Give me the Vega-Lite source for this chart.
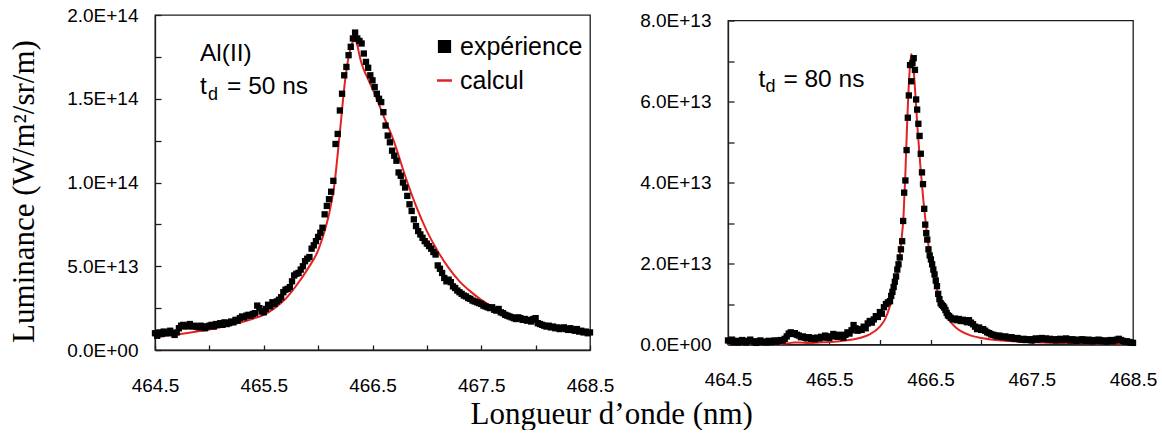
{
  "$schema": "https://vega.github.io/schema/vega-lite/v6.json",
  "background": "white",
  "padding": {"left": 8, "top": 5, "right": 0, "bottom": 0},
  "title": {"text": "Longueur d’onde (nm)", "orient": "bottom", "anchor": "middle", "font": "Liberation Serif", "fontSize": 31, "fontWeight": "normal", "color": "#000", "offset": 4, "dx": 29},
  "datasets": {
    "exp50": [
      {"x":464.50,"y":1.00e13},{"x":464.52,"y":0.85e13},{"x":464.54,"y":1.05e13},{"x":464.56,"y":0.95e13},{"x":464.58,"y":1.10e13},{"x":464.60,"y":1.00e13},{"x":464.62,"y":1.05e13},{"x":464.64,"y":1.15e13},{"x":464.66,"y":1.00e13},{"x":464.68,"y":0.90e13},
      {"x":464.70,"y":1.05e13},{"x":464.72,"y":1.30e13},{"x":464.74,"y":1.45e13},{"x":464.76,"y":1.50e13},{"x":464.78,"y":1.40e13},{"x":464.80,"y":1.45e13},{"x":464.82,"y":1.55e13},{"x":464.84,"y":1.40e13},{"x":464.86,"y":1.45e13},{"x":464.88,"y":1.40e13},
      {"x":464.90,"y":1.35e13},{"x":464.92,"y":1.45e13},{"x":464.94,"y":1.40e13},{"x":464.96,"y":1.30e13},{"x":464.98,"y":1.40e13},{"x":465.00,"y":1.45e13},{"x":465.02,"y":1.50e13},{"x":465.04,"y":1.40e13},{"x":465.06,"y":1.55e13},{"x":465.08,"y":1.50e13},
      {"x":465.10,"y":1.60e13},{"x":465.12,"y":1.50e13},{"x":465.14,"y":1.65e13},{"x":465.16,"y":1.55e13},{"x":465.18,"y":1.60e13},{"x":465.20,"y":1.70e13},{"x":465.22,"y":1.65e13},{"x":465.24,"y":1.80e13},{"x":465.26,"y":1.75e13},{"x":465.28,"y":1.90e13},
      {"x":465.30,"y":2.00e13},{"x":465.32,"y":1.95e13},{"x":465.34,"y":2.05e13},{"x":465.36,"y":2.10e13},{"x":465.38,"y":2.05e13},{"x":465.40,"y":2.15e13},{"x":465.42,"y":2.20e13},{"x":465.44,"y":2.65e13},{"x":465.46,"y":2.50e13},{"x":465.48,"y":2.30e13},
      {"x":465.50,"y":2.25e13},{"x":465.52,"y":2.45e13},{"x":465.54,"y":2.70e13},{"x":465.56,"y":2.60e13},{"x":465.58,"y":2.85e13},{"x":465.60,"y":2.75e13},{"x":465.62,"y":2.90e13},{"x":465.64,"y":3.00e13},{"x":465.66,"y":3.15e13},{"x":465.68,"y":3.45e13},
      {"x":465.70,"y":3.60e13},{"x":465.72,"y":3.65e13},{"x":465.74,"y":3.75e13},{"x":465.76,"y":4.10e13},{"x":465.78,"y":4.45e13},{"x":465.80,"y":4.55e13},{"x":465.82,"y":4.60e13},{"x":465.84,"y":4.80e13},{"x":465.86,"y":5.00e13},{"x":465.88,"y":5.30e13},
      {"x":465.90,"y":5.45e13},{"x":465.92,"y":5.55e13},{"x":465.94,"y":6.05e13},{"x":465.96,"y":6.25e13},{"x":465.98,"y":6.50e13},{"x":466.00,"y":6.75e13},{"x":466.02,"y":7.00e13},{"x":466.04,"y":7.30e13},{"x":466.06,"y":8.10e13},{"x":466.08,"y":8.60e13},
      {"x":466.10,"y":9.00e13},{"x":466.12,"y":9.45e13},{"x":466.14,"y":10.10e13},{"x":466.16,"y":12.30e13},{"x":466.18,"y":12.90e13},{"x":466.20,"y":14.30e13},{"x":466.22,"y":15.30e13},{"x":466.24,"y":16.40e13},{"x":466.26,"y":16.90e13},{"x":466.28,"y":17.60e13},
      {"x":466.30,"y":18.10e13},{"x":466.32,"y":18.60e13},{"x":466.34,"y":18.95e13},{"x":466.36,"y":18.60e13},{"x":466.38,"y":18.45e13},{"x":466.40,"y":18.30e13},{"x":466.42,"y":17.70e13},{"x":466.44,"y":17.20e13},{"x":466.46,"y":16.85e13},{"x":466.48,"y":16.40e13},
      {"x":466.50,"y":16.10e13},{"x":466.52,"y":15.70e13},{"x":466.54,"y":15.30e13},{"x":466.56,"y":15.00e13},{"x":466.58,"y":14.80e13},{"x":466.60,"y":14.20e13},{"x":466.62,"y":13.40e13},{"x":466.64,"y":12.80e13},{"x":466.66,"y":12.40e13},{"x":466.68,"y":11.90e13},
      {"x":466.70,"y":11.60e13},{"x":466.72,"y":11.30e13},{"x":466.74,"y":10.60e13},{"x":466.76,"y":10.40e13},{"x":466.78,"y":10.00e13},{"x":466.80,"y":9.70e13},{"x":466.82,"y":9.20e13},{"x":466.84,"y":8.70e13},{"x":466.86,"y":8.30e13},{"x":466.88,"y":7.80e13},
      {"x":466.90,"y":7.40e13},{"x":466.92,"y":7.10e13},{"x":466.94,"y":6.90e13},{"x":466.96,"y":6.70e13},{"x":466.98,"y":6.50e13},{"x":467.00,"y":6.35e13},{"x":467.02,"y":6.20e13},{"x":467.04,"y":6.05e13},{"x":467.06,"y":5.85e13},{"x":467.08,"y":5.70e13},
      {"x":467.10,"y":5.05e13},{"x":467.12,"y":4.85e13},{"x":467.14,"y":4.60e13},{"x":467.16,"y":4.30e13},{"x":467.18,"y":4.10e13},{"x":467.20,"y":4.20e13},{"x":467.22,"y":4.05e13},{"x":467.24,"y":3.80e13},{"x":467.26,"y":3.70e13},{"x":467.28,"y":3.55e13},
      {"x":467.30,"y":3.45e13},{"x":467.32,"y":3.35e13},{"x":467.34,"y":3.25e13},{"x":467.36,"y":3.20e13},{"x":467.38,"y":3.10e13},{"x":467.40,"y":3.05e13},{"x":467.42,"y":2.95e13},{"x":467.44,"y":2.90e13},{"x":467.46,"y":2.85e13},{"x":467.48,"y":2.80e13},
      {"x":467.50,"y":2.75e13},{"x":467.52,"y":2.65e13},{"x":467.54,"y":2.60e13},{"x":467.56,"y":2.55e13},{"x":467.58,"y":2.50e13},{"x":467.60,"y":2.55e13},{"x":467.62,"y":2.40e13},{"x":467.64,"y":2.35e13},{"x":467.66,"y":2.45e13},{"x":467.68,"y":2.25e13},
      {"x":467.70,"y":2.20e13},{"x":467.72,"y":2.10e13},{"x":467.74,"y":2.05e13},{"x":467.76,"y":2.00e13},{"x":467.78,"y":1.95e13},{"x":467.80,"y":1.90e13},{"x":467.82,"y":1.85e13},{"x":467.84,"y":1.95e13},{"x":467.86,"y":1.90e13},{"x":467.88,"y":1.80e13},
      {"x":467.90,"y":1.85e13},{"x":467.92,"y":1.75e13},{"x":467.94,"y":1.80e13},{"x":467.96,"y":1.70e13},{"x":467.98,"y":1.85e13},{"x":468.00,"y":1.90e13},{"x":468.02,"y":1.60e13},{"x":468.04,"y":1.55e13},{"x":468.06,"y":1.50e13},{"x":468.08,"y":1.45e13},
      {"x":468.10,"y":1.40e13},{"x":468.12,"y":1.45e13},{"x":468.14,"y":1.35e13},{"x":468.16,"y":1.40e13},{"x":468.18,"y":1.30e13},{"x":468.20,"y":1.35e13},{"x":468.22,"y":1.25e13},{"x":468.24,"y":1.30e13},{"x":468.26,"y":1.35e13},{"x":468.28,"y":1.25e13},
      {"x":468.30,"y":1.20e13},{"x":468.32,"y":1.30e13},{"x":468.34,"y":1.20e13},{"x":468.36,"y":1.15e13},{"x":468.38,"y":1.25e13},{"x":468.40,"y":1.10e13},{"x":468.42,"y":1.15e13},{"x":468.44,"y":1.05e13},{"x":468.46,"y":1.10e13},{"x":468.48,"y":1.00e13},
      {"x":468.50,"y":1.05e13}
    ],
    "calc50": [
      {"x":464.5,"y":0.78e13},{"x":464.6,"y":0.85e13},{"x":464.7,"y":0.93e13},{"x":464.8,"y":1.02e13},{"x":464.9,"y":1.12e13},{"x":465.0,"y":1.23e13},{"x":465.1,"y":1.36e13},{"x":465.2,"y":1.50e13},{"x":465.3,"y":1.67e13},{"x":465.4,"y":1.87e13},
      {"x":465.5,"y":2.10e13},{"x":465.6,"y":2.50e13},{"x":465.7,"y":3.05e13},{"x":465.8,"y":3.85e13},{"x":465.9,"y":4.80e13},{"x":466.0,"y":5.95e13},{"x":466.05,"y":6.90e13},{"x":466.1,"y":8.10e13},{"x":466.15,"y":9.90e13},{"x":466.2,"y":13.0e13},
      {"x":466.25,"y":16.2e13},{"x":466.29,"y":17.8e13},{"x":466.32,"y":18.4e13},{"x":466.34,"y":18.5e13},{"x":466.36,"y":18.2e13},{"x":466.38,"y":17.6e13},{"x":466.4,"y":17.1e13},{"x":466.45,"y":16.3e13},{"x":466.5,"y":15.6e13},{"x":466.6,"y":14.0e13},
      {"x":466.7,"y":12.4e13},{"x":466.8,"y":10.4e13},{"x":466.9,"y":8.6e13},{"x":467.0,"y":7.1e13},{"x":467.1,"y":5.9e13},{"x":467.2,"y":4.9e13},{"x":467.3,"y":4.1e13},{"x":467.4,"y":3.5e13},{"x":467.5,"y":3.0e13},{"x":467.6,"y":2.6e13},
      {"x":467.7,"y":2.3e13},{"x":467.8,"y":2.05e13},{"x":467.9,"y":1.85e13},{"x":468.0,"y":1.65e13},{"x":468.1,"y":1.5e13},{"x":468.2,"y":1.35e13},{"x":468.3,"y":1.2e13},{"x":468.4,"y":1.05e13},{"x":468.5,"y":0.92e13}
    ],
    "exp80": [
      {"x":464.50,"y":0.10e13},{"x":464.52,"y":0.08e13},{"x":464.54,"y":0.12e13},{"x":464.56,"y":0.06e13},{"x":464.58,"y":0.09e13},{"x":464.60,"y":0.05e13},{"x":464.62,"y":0.08e13},{"x":464.64,"y":0.11e13},{"x":464.66,"y":0.07e13},{"x":464.68,"y":0.05e13},
      {"x":464.70,"y":0.09e13},{"x":464.72,"y":0.12e13},{"x":464.74,"y":0.08e13},{"x":464.76,"y":0.06e13},{"x":464.78,"y":0.04e13},{"x":464.80,"y":0.08e13},{"x":464.82,"y":0.10e13},{"x":464.84,"y":0.06e13},{"x":464.86,"y":0.07e13},{"x":464.88,"y":0.05e13},
      {"x":464.90,"y":0.09e13},{"x":464.92,"y":0.06e13},{"x":464.94,"y":0.08e13},{"x":464.96,"y":0.10e13},{"x":464.98,"y":0.07e13},{"x":465.00,"y":0.09e13},{"x":465.02,"y":0.11e13},{"x":465.04,"y":0.10e13},{"x":465.06,"y":0.14e13},{"x":465.08,"y":0.20e13},
      {"x":465.10,"y":0.27e13},{"x":465.12,"y":0.30e13},{"x":465.14,"y":0.26e13},{"x":465.16,"y":0.28e13},{"x":465.18,"y":0.24e13},{"x":465.20,"y":0.22e13},{"x":465.22,"y":0.18e13},{"x":465.24,"y":0.20e13},{"x":465.26,"y":0.17e13},{"x":465.28,"y":0.15e13},
      {"x":465.30,"y":0.18e13},{"x":465.32,"y":0.14e13},{"x":465.34,"y":0.16e13},{"x":465.36,"y":0.13e13},{"x":465.38,"y":0.17e13},{"x":465.40,"y":0.15e13},{"x":465.42,"y":0.19e13},{"x":465.44,"y":0.17e13},{"x":465.46,"y":0.22e13},{"x":465.48,"y":0.18e13},
      {"x":465.50,"y":0.16e13},{"x":465.52,"y":0.20e13},{"x":465.54,"y":0.26e13},{"x":465.56,"y":0.22e13},{"x":465.58,"y":0.19e13},{"x":465.60,"y":0.24e13},{"x":465.62,"y":0.21e13},{"x":465.64,"y":0.17e13},{"x":465.66,"y":0.24e13},{"x":465.68,"y":0.30e13},
      {"x":465.70,"y":0.27e13},{"x":465.72,"y":0.35e13},{"x":465.74,"y":0.48e13},{"x":465.76,"y":0.40e13},{"x":465.78,"y":0.34e13},{"x":465.80,"y":0.38e13},{"x":465.82,"y":0.36e13},{"x":465.84,"y":0.44e13},{"x":465.86,"y":0.40e13},{"x":465.88,"y":0.52e13},
      {"x":465.90,"y":0.58e13},{"x":465.92,"y":0.54e13},{"x":465.94,"y":0.62e13},{"x":465.96,"y":0.70e13},{"x":465.98,"y":0.68e13},{"x":466.00,"y":0.80e13},{"x":466.02,"y":0.76e13},{"x":466.04,"y":0.92e13},{"x":466.06,"y":1.00e13},{"x":466.08,"y":1.04e13},
      {"x":466.100,"y":1.07e13},{"x":466.112,"y":1.20e13},{"x":466.124,"y":1.30e13},{"x":466.136,"y":1.42e13},{"x":466.148,"y":1.55e13},{"x":466.160,"y":1.68e13},{"x":466.172,"y":1.85e13},{"x":466.184,"y":1.98e13},{"x":466.196,"y":2.15e13},{"x":466.208,"y":2.35e13},
      {"x":466.220,"y":2.55e13},{"x":466.230,"y":3.05e13},{"x":466.240,"y":3.75e13},{"x":466.252,"y":4.05e13},{"x":466.264,"y":4.80e13},{"x":466.276,"y":5.60e13},{"x":466.286,"y":6.15e13},{"x":466.298,"y":6.90e13},{"x":466.310,"y":6.50e13},{"x":466.322,"y":6.95e13},
      {"x":466.334,"y":7.07e13},{"x":466.346,"y":6.78e13},{"x":466.358,"y":6.05e13},{"x":466.368,"y":5.80e13},{"x":466.380,"y":5.45e13},{"x":466.392,"y":5.15e13},{"x":466.404,"y":4.71e13},{"x":466.416,"y":4.25e13},{"x":466.426,"y":3.96e13},{"x":466.438,"y":3.35e13},
      {"x":466.448,"y":2.96e13},{"x":466.458,"y":2.75e13},{"x":466.468,"y":2.59e13},{"x":466.480,"y":2.35e13},{"x":466.492,"y":2.20e13},{"x":466.504,"y":2.10e13},{"x":466.516,"y":1.98e13},{"x":466.528,"y":1.85e13},{"x":466.540,"y":1.73e13},{"x":466.552,"y":1.58e13},
      {"x":466.564,"y":1.44e13},{"x":466.576,"y":1.25e13},{"x":466.588,"y":1.12e13},{"x":466.600,"y":1.02e13},{"x":466.612,"y":0.98e13},{"x":466.624,"y":0.95e13},{"x":466.636,"y":0.91e13},{"x":466.648,"y":0.85e13},{"x":466.660,"y":0.78e13},{"x":466.672,"y":0.72e13},
      {"x":466.684,"y":0.70e13},{"x":466.70,"y":0.66e13},{"x":466.72,"y":0.62e13},{"x":466.74,"y":0.64e13},{"x":466.76,"y":0.60e13},{"x":466.78,"y":0.63e13},{"x":466.80,"y":0.58e13},{"x":466.82,"y":0.61e13},{"x":466.84,"y":0.58e13},{"x":466.86,"y":0.55e13},
      {"x":466.88,"y":0.60e13},{"x":466.90,"y":0.54e13},{"x":466.92,"y":0.50e13},{"x":466.94,"y":0.44e13},{"x":466.96,"y":0.38e13},{"x":466.98,"y":0.42e13},{"x":467.00,"y":0.36e13},{"x":467.02,"y":0.38e13},{"x":467.04,"y":0.34e13},{"x":467.06,"y":0.30e13},
      {"x":467.08,"y":0.28e13},{"x":467.10,"y":0.25e13},{"x":467.12,"y":0.24e13},{"x":467.14,"y":0.22e13},{"x":467.16,"y":0.20e13},{"x":467.18,"y":0.22e13},{"x":467.20,"y":0.19e13},{"x":467.22,"y":0.18e13},{"x":467.24,"y":0.20e13},{"x":467.26,"y":0.17e13},
      {"x":467.28,"y":0.16e13},{"x":467.30,"y":0.18e13},{"x":467.32,"y":0.15e13},{"x":467.34,"y":0.14e13},{"x":467.36,"y":0.16e13},{"x":467.38,"y":0.13e13},{"x":467.40,"y":0.12e13},{"x":467.42,"y":0.14e13},{"x":467.44,"y":0.11e13},{"x":467.46,"y":0.13e13},
      {"x":467.48,"y":0.12e13},{"x":467.50,"y":0.10e13},{"x":467.52,"y":0.13e13},{"x":467.54,"y":0.15e13},{"x":467.56,"y":0.12e13},{"x":467.58,"y":0.14e13},{"x":467.60,"y":0.16e13},{"x":467.62,"y":0.13e13},{"x":467.64,"y":0.15e13},{"x":467.66,"y":0.12e13},
      {"x":467.68,"y":0.14e13},{"x":467.70,"y":0.11e13},{"x":467.72,"y":0.13e13},{"x":467.74,"y":0.10e13},{"x":467.76,"y":0.12e13},{"x":467.78,"y":0.14e13},{"x":467.80,"y":0.11e13},{"x":467.82,"y":0.13e13},{"x":467.84,"y":0.15e13},{"x":467.86,"y":0.12e13},
      {"x":467.88,"y":0.10e13},{"x":467.90,"y":0.13e13},{"x":467.92,"y":0.11e13},{"x":467.94,"y":0.09e13},{"x":467.96,"y":0.12e13},{"x":467.98,"y":0.10e13},{"x":468.00,"y":0.13e13},{"x":468.02,"y":0.11e13},{"x":468.04,"y":0.09e13},{"x":468.06,"y":0.12e13},
      {"x":468.08,"y":0.10e13},{"x":468.10,"y":0.08e13},{"x":468.12,"y":0.11e13},{"x":468.14,"y":0.09e13},{"x":468.16,"y":0.12e13},{"x":468.18,"y":0.10e13},{"x":468.20,"y":0.08e13},{"x":468.22,"y":0.10e13},{"x":468.24,"y":0.07e13},{"x":468.26,"y":0.09e13},
      {"x":468.28,"y":0.11e13},{"x":468.30,"y":0.08e13},{"x":468.32,"y":0.10e13},{"x":468.34,"y":0.12e13},{"x":468.36,"y":0.14e13},{"x":468.38,"y":0.11e13},{"x":468.40,"y":0.09e13},{"x":468.42,"y":0.07e13},{"x":468.44,"y":0.08e13},{"x":468.46,"y":0.06e13},
      {"x":468.48,"y":0.05e13},{"x":468.50,"y":0.04e13}
    ],
    "calc80": [
      {"x":464.5,"y":0.01e13},{"x":464.8,"y":0.015e13},{"x":465.0,"y":0.02e13},{"x":465.1,"y":0.03e13},{"x":465.15,"y":0.05e13},{"x":465.2,"y":0.05e13},{"x":465.3,"y":0.04e13},{"x":465.4,"y":0.05e13},{"x":465.5,"y":0.06e13},{"x":465.6,"y":0.08e13},
      {"x":465.7,"y":0.11e13},{"x":465.8,"y":0.16e13},{"x":465.9,"y":0.25e13},{"x":466.0,"y":0.44e13},{"x":466.05,"y":0.62e13},{"x":466.1,"y":0.95e13},{"x":466.15,"y":1.45e13},{"x":466.18,"y":1.9e13},{"x":466.21,"y":2.5e13},{"x":466.234,"y":3.2e13},
      {"x":466.25,"y":4.1e13},{"x":466.27,"y":5.5e13},{"x":466.29,"y":6.6e13},{"x":466.31,"y":7.17e13},{"x":466.33,"y":6.9e13},{"x":466.35,"y":6.2e13},{"x":466.37,"y":5.4e13},{"x":466.40,"y":4.4e13},{"x":466.43,"y":3.55e13},{"x":466.455,"y":2.95e13},
      {"x":466.48,"y":2.45e13},{"x":466.52,"y":1.85e13},{"x":466.56,"y":1.40e13},{"x":466.6,"y":1.05e13},{"x":466.65,"y":0.75e13},{"x":466.7,"y":0.55e13},{"x":466.75,"y":0.42e13},{"x":466.8,"y":0.33e13},{"x":466.9,"y":0.22e13},{"x":467.0,"y":0.16e13},
      {"x":467.2,"y":0.10e13},{"x":467.4,"y":0.07e13},{"x":467.6,"y":0.05e13},{"x":467.8,"y":0.04e13},{"x":468.0,"y":0.03e13},{"x":468.5,"y":0.02e13}
    ]
  },
  "spacing": 138,
  "bounds": "flush",
  "center": true,
  "hconcat": [
    {
      "width": 435,
      "height": 335,
      "layer": [
        {
          "data": {"name": "calc50"},
          "mark": {"type": "line", "strokeWidth": 2, "interpolate": "monotone"},
          "encoding": {
            "x": {"field": "x", "type": "quantitative", "scale": {"domain": [464.5, 468.5], "nice": false, "zero": false},
                  "axis": {"title": null, "values": [464.5, 465, 465.5, 466, 466.5, 467, 467.5, 468, 468.5], "labelExpr": "datum.value % 1 == 0.5 ? format(datum.value, '.1f') : ''"}},
            "y": {"field": "y", "type": "quantitative", "scale": {"domain": [0, 2e14], "nice": false, "zero": true},
                  "axis": {"title": "Luminance (W/m²/sr/m)", "titlePadding": 26, "titleY": 176,
                           "values": [0, 2.5e13, 5e13, 7.5e13, 1e14, 1.25e14, 1.5e14, 1.75e14, 2e14],
                           "labelExpr": "datum.value % 5e13 == 0 ? (datum.value == 0 ? '0.0E+00' : upper(format(datum.value, '.1e'))) : ''"}},
            "color": {"datum": "calcul", "type": "nominal",
                      "scale": {"domain": ["expérience", "calcul"], "range": ["#000000", "#e32222"]},
                      "legend": {"title": null, "orient": "none", "legendX": 277, "legendY": 19, "padding": 0,
                                 "labelFont": "Liberation Sans", "labelFontSize": 25, "labelColor": "#000",
                                 "symbolSize": 225, "labelOffset": 3, "rowPadding": 8,
                                 "encode": {"symbols": {"update": {
                                   "shape": {"signal": "datum.value === 'calcul' ? 'stroke' : 'square'"},
                                   "size": {"signal": "datum.value === 'calcul' ? 225 : 115"},
                                   "fill": {"signal": "datum.value === 'calcul' ? 'transparent' : '#000000'"},
                                   "stroke": {"signal": "datum.value === 'calcul' ? '#e32222' : 'transparent'"},
                                   "strokeWidth": {"value": 2.5},
                                   "opacity": {"value": 1}
                                 }}}}}
          }
        },
        {
          "data": {"name": "exp50"},
          "mark": {"type": "square", "size": 40, "filled": true, "opacity": 1},
          "encoding": {
            "x": {"field": "x", "type": "quantitative"},
            "y": {"field": "y", "type": "quantitative"},
            "color": {"datum": "expérience", "type": "nominal"}
          }
        },
        {
          "data": {"values": [{}]},
          "mark": {"type": "text", "text": "Al(II)", "align": "left", "baseline": "alphabetic", "font": "Liberation Sans", "fontSize": 24.5, "color": "#000"},
          "encoding": {"x": {"datum": 464.914, "type": "quantitative"}, "y": {"datum": 1.725e14, "type": "quantitative"}}
        },
        {
          "data": {"values": [{}]},
          "mark": {"type": "text", "text": "t", "align": "left", "baseline": "alphabetic", "font": "Liberation Sans", "fontSize": 24.5, "color": "#000"},
          "encoding": {"x": {"datum": 464.914, "type": "quantitative"}, "y": {"datum": 1.528e14, "type": "quantitative"}}
        },
        {
          "data": {"values": [{}]},
          "mark": {"type": "text", "text": "d", "align": "left", "baseline": "alphabetic", "font": "Liberation Sans", "fontSize": 18, "color": "#000", "dx": 8, "dy": 6},
          "encoding": {"x": {"datum": 464.914, "type": "quantitative"}, "y": {"datum": 1.528e14, "type": "quantitative"}}
        },
        {
          "data": {"values": [{}]},
          "mark": {"type": "text", "text": "= 50 ns", "align": "left", "baseline": "alphabetic", "font": "Liberation Sans", "fontSize": 24.5, "color": "#000", "dx": 27},
          "encoding": {"x": {"datum": 464.914, "type": "quantitative"}, "y": {"datum": 1.528e14, "type": "quantitative"}}
        }
      ]
    },
    {
      "width": 405,
      "height": 324,
      "layer": [
        {
          "data": {"name": "calc80"},
          "mark": {"type": "line", "strokeWidth": 2, "interpolate": "monotone", "color": "#e32222"},
          "encoding": {
            "x": {"field": "x", "type": "quantitative", "scale": {"domain": [464.5, 468.5], "nice": false, "zero": false},
                  "axis": {"title": null, "values": [464.5, 465, 465.5, 466, 466.5, 467, 467.5, 468, 468.5], "labelExpr": "datum.value % 1 == 0.5 ? format(datum.value, '.1f') : ''"}},
            "y": {"field": "y", "type": "quantitative", "scale": {"domain": [0, 8e13], "nice": false, "zero": true},
                  "axis": {"title": null,
                           "values": [0, 1e13, 2e13, 3e13, 4e13, 5e13, 6e13, 7e13, 8e13],
                           "labelExpr": "datum.value % 2e13 == 0 ? (datum.value == 0 ? '0.0E+00' : upper(format(datum.value, '.1e'))) : ''"}}
          }
        },
        {
          "data": {"name": "exp80"},
          "mark": {"type": "square", "size": 40, "filled": true, "opacity": 1, "color": "#000000"},
          "encoding": {
            "x": {"field": "x", "type": "quantitative"},
            "y": {"field": "y", "type": "quantitative"}
          }
        },
        {
          "data": {"values": [{}]},
          "mark": {"type": "text", "text": "t", "align": "left", "baseline": "alphabetic", "font": "Liberation Sans", "fontSize": 24.5, "color": "#000"},
          "encoding": {"x": {"datum": 464.80, "type": "quantitative"}, "y": {"datum": 6.36e13, "type": "quantitative"}}
        },
        {
          "data": {"values": [{}]},
          "mark": {"type": "text", "text": "d", "align": "left", "baseline": "alphabetic", "font": "Liberation Sans", "fontSize": 18, "color": "#000", "dx": 7, "dy": 5},
          "encoding": {"x": {"datum": 464.80, "type": "quantitative"}, "y": {"datum": 6.36e13, "type": "quantitative"}}
        },
        {
          "data": {"values": [{}]},
          "mark": {"type": "text", "text": "= 80 ns", "align": "left", "baseline": "alphabetic", "font": "Liberation Sans", "fontSize": 24.5, "color": "#000", "dx": 25},
          "encoding": {"x": {"datum": 464.80, "type": "quantitative"}, "y": {"datum": 6.36e13, "type": "quantitative"}}
        }
      ]
    }
  ],
  "config": {
    "view": {"stroke": "#1e1e1e", "strokeWidth": 1.3},
    "axis": {"grid": false, "domainColor": "#1e1e1e", "domainWidth": 1.3, "tickColor": "#1e1e1e", "tickWidth": 1.3, "tickSize": -6,
             "labelFont": "Liberation Sans", "labelFontSize": 19, "labelColor": "#000", "labelOverlap": false, "labelFlush": false,
             "titleFont": "Liberation Serif", "titleFontSize": 31, "titleFontWeight": "normal", "titleColor": "#000"},
    "axisX": {"labelPadding": 31, "tickSize": -5},
    "axisY": {"labelPadding": 23}
  }
}
